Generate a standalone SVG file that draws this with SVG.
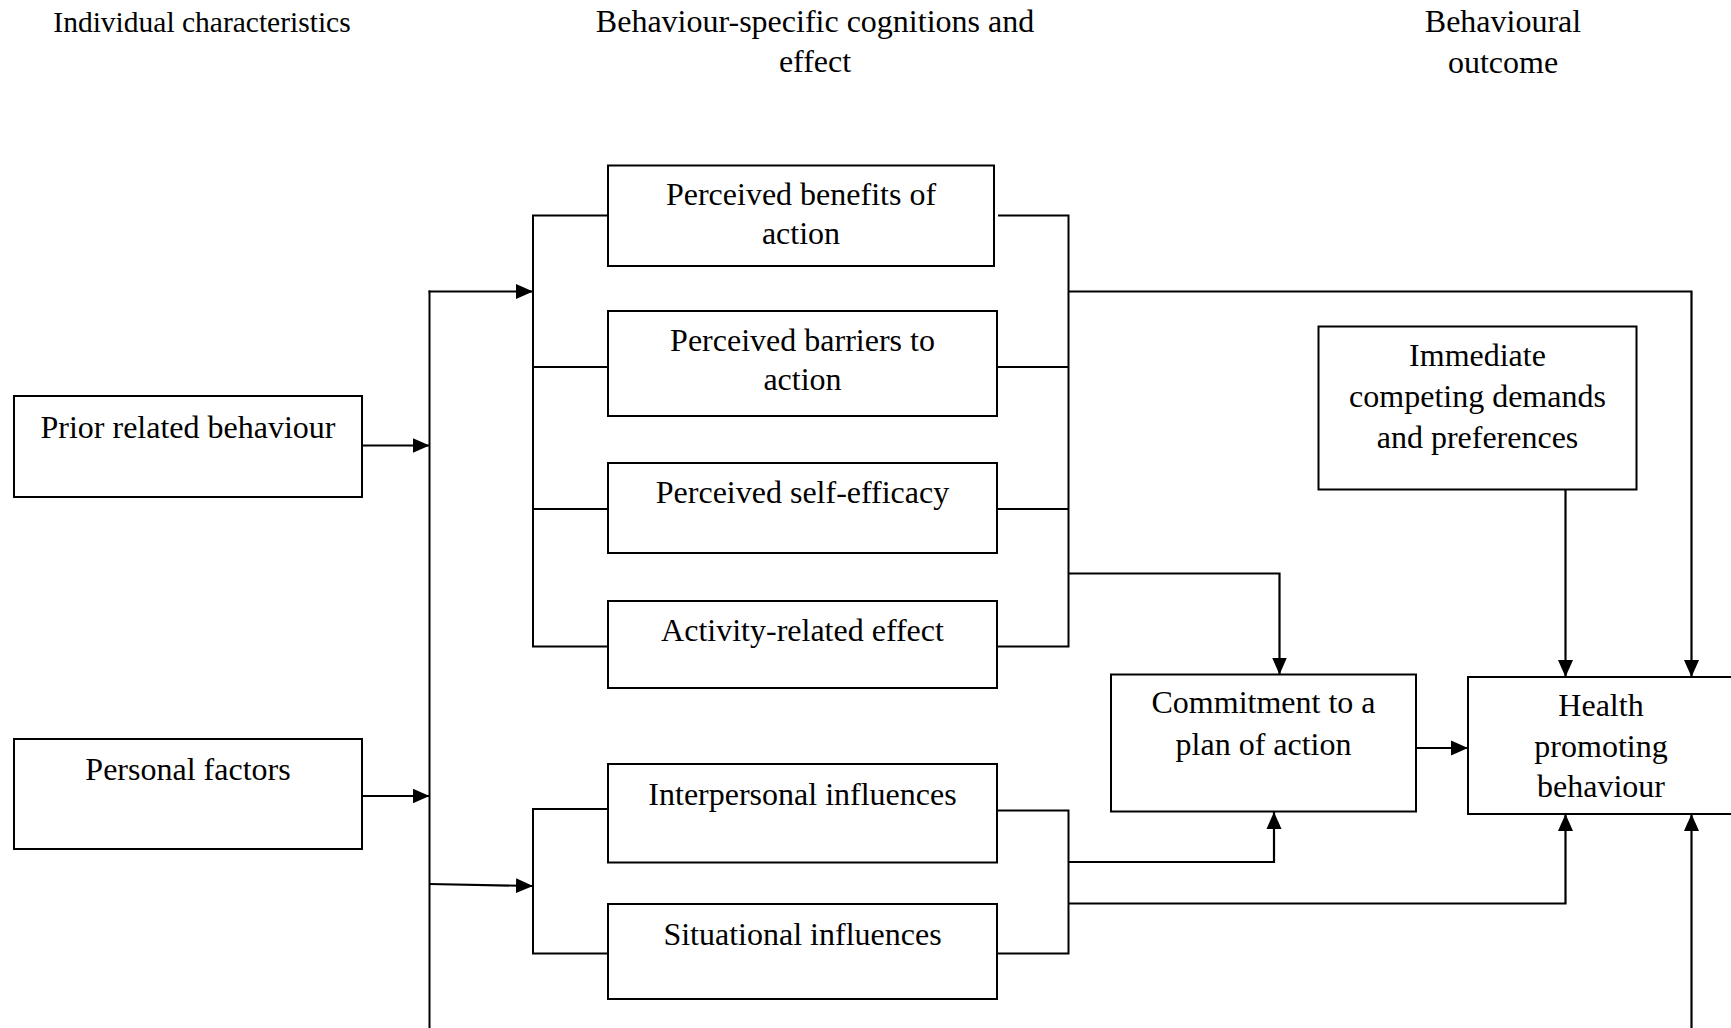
<svg xmlns="http://www.w3.org/2000/svg" width="1731" height="1028" viewBox="0 0 1731 1028">
  <style>
    .box { fill: #ffffff; stroke: #000000; stroke-width: 2; }
    .lbl { font-family: "Liberation Serif", "Times New Roman", serif; font-size: 32px; fill: #000000; text-anchor: middle; }
    .head { font-family: "Liberation Serif", "Times New Roman", serif; font-size: 32px; fill: #000000; text-anchor: middle; }
    .wire { fill: none; stroke: #000000; stroke-width: 2; }
    .arrow { fill: none; stroke: #000000; stroke-width: 2.2; marker-end: url(#tip); }
  </style>
  <defs>
    <marker id="tip" markerUnits="userSpaceOnUse" markerWidth="17" markerHeight="16" refX="17" refY="8" orient="auto">
      <path d="M0,0.5 L17,8 L0,15.5 Z" fill="#000000"/>
    </marker>
  </defs>
  <rect width="1731" height="1028" fill="#ffffff"/>

  <!-- column headings -->
  <g id="headings">
    <text class="head" x="202" y="32" style="font-size:29.5px">Individual characteristics</text>
    <text class="head" x="815" y="32">Behaviour-specific cognitions and</text>
    <text class="head" x="815" y="72">effect</text>
    <text class="head" x="1503" y="32">Behavioural</text>
    <text class="head" x="1503" y="73">outcome</text>
  </g>

  <!-- connectors -->
  <g id="connectors">
    <!-- individual characteristics into the trunk -->
    <line class="arrow" x1="362" y1="445.5" x2="429.5" y2="445.5"/>
    <line class="arrow" x1="362" y1="796" x2="429.5" y2="796"/>
    <!-- trunk -->
    <line class="wire" x1="429.5" y1="290.5" x2="429.5" y2="1028"/>
    <line class="arrow" x1="428.5" y1="291.5" x2="533" y2="291.5"/>
    <line class="arrow" x1="429.5" y1="884" x2="533" y2="886"/>
    <!-- left bracket, cognitions -->
    <polyline class="wire" points="608,215.5 533,215.5 533,646.5 608,646.5"/>
    <line class="wire" x1="533" y1="367" x2="608" y2="367"/>
    <line class="wire" x1="533" y1="509" x2="608" y2="509"/>
    <!-- left bracket, influences -->
    <polyline class="wire" points="608,809 533,809 533,953.5 608,953.5"/>
    <!-- right bracket, cognitions -->
    <polyline class="wire" points="998,215.5 1068.5,215.5 1068.5,646.5 997,646.5"/>
    <line class="wire" x1="997" y1="367" x2="1068.5" y2="367"/>
    <line class="wire" x1="997" y1="509" x2="1068.5" y2="509"/>
    <!-- right bracket, influences -->
    <polyline class="wire" points="997,810.5 1068.5,810.5 1068.5,953.5 997,953.5"/>
    <!-- cognitions to behaviour -->
    <polyline class="arrow" points="1068.5,291.5 1691.5,291.5 1691.5,677"/>
    <!-- cognitions to commitment -->
    <polyline class="arrow" points="1068.5,573.5 1279.5,573.5 1279.5,674.5"/>
    <!-- competing demands to behaviour -->
    <line class="arrow" x1="1565.5" y1="489.5" x2="1565.5" y2="677"/>
    <!-- commitment to behaviour -->
    <line class="arrow" x1="1416" y1="748" x2="1468" y2="748"/>
    <!-- influences to commitment and behaviour -->
    <polyline class="arrow" points="1068.5,862 1274,862 1274,812"/>
    <polyline class="arrow" points="1068.5,903.5 1565.5,903.5 1565.5,814"/>
    <!-- return path from below -->
    <line class="arrow" x1="1691.5" y1="1028" x2="1691.5" y2="814"/>
  </g>

  <!-- individual characteristics -->
  <g id="prior-behaviour">
    <rect class="box" x="14" y="396" width="348" height="101"/>
    <text class="lbl" x="188" y="438">Prior related behaviour</text>
  </g>
  <g id="personal-factors">
    <rect class="box" x="14" y="739" width="348" height="110"/>
    <text class="lbl" x="188" y="780">Personal factors</text>
  </g>

  <!-- behaviour-specific cognitions and effect -->
  <g id="benefits">
    <rect class="box" x="608" y="165.5" width="386" height="100.5"/>
    <text class="lbl" x="801" y="205">Perceived benefits of</text>
    <text class="lbl" x="801" y="244">action</text>
  </g>
  <g id="barriers">
    <rect class="box" x="608" y="311" width="389" height="105"/>
    <text class="lbl" x="802.5" y="350.5">Perceived barriers to</text>
    <text class="lbl" x="802.5" y="389.5">action</text>
  </g>
  <g id="self-efficacy">
    <rect class="box" x="608" y="463" width="389" height="90"/>
    <text class="lbl" x="802.5" y="503">Perceived self-efficacy</text>
  </g>
  <g id="activity-effect">
    <rect class="box" x="608" y="601" width="389" height="87"/>
    <text class="lbl" x="802.5" y="640.5">Activity-related effect</text>
  </g>
  <g id="interpersonal">
    <rect class="box" x="608" y="764" width="389" height="98.5"/>
    <text class="lbl" x="802.5" y="804.5">Interpersonal influences</text>
  </g>
  <g id="situational">
    <rect class="box" x="608" y="904" width="389" height="95"/>
    <text class="lbl" x="802.5" y="944.5">Situational influences</text>
  </g>

  <!-- behavioural outcome -->
  <g id="competing-demands">
    <rect class="box" x="1318.5" y="326.5" width="318" height="163"/>
    <text class="lbl" x="1477.5" y="366">Immediate</text>
    <text class="lbl" x="1477.5" y="407">competing demands</text>
    <text class="lbl" x="1477.5" y="448">and preferences</text>
  </g>
  <g id="commitment">
    <rect class="box" x="1111" y="674.5" width="305" height="137"/>
    <text class="lbl" x="1263.5" y="713">Commitment to a</text>
    <text class="lbl" x="1263.5" y="755">plan of action</text>
  </g>
  <g id="health-behaviour">
    <rect class="box" x="1468" y="677" width="266" height="137"/>
    <text class="lbl" x="1601" y="716">Health</text>
    <text class="lbl" x="1601" y="757">promoting</text>
    <text class="lbl" x="1601" y="797">behaviour</text>
  </g>
</svg>
